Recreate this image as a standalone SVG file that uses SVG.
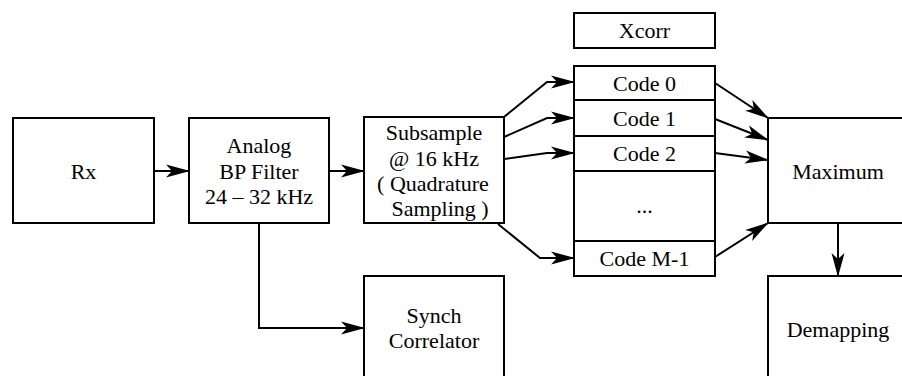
<svg xmlns="http://www.w3.org/2000/svg" width="902" height="376" viewBox="0 0 902 376">
<style>
.box{fill:#fff;stroke:#000;stroke-width:2}
.t{font-family:"Liberation Serif","Times New Roman",Times,serif;font-size:22px;fill:#000;text-anchor:middle}
.c{fill:none;stroke:#000;stroke-width:2;marker-end:url(#ah)}
</style>
<defs>
<marker id="ah" markerUnits="userSpaceOnUse" markerWidth="26" markerHeight="16" refX="23" refY="8" orient="auto">
<path d="M0,1.5 L24,8 L0,14.5 L6,8 z" fill="#000"/>
</marker>
</defs>
<rect width="902" height="376" fill="#fff"/>
<g id="rx"><rect class="box" x="13" y="118" width="141" height="105"/><text class="t" x="83.5" y="179">Rx</text></g>
<g id="filter"><rect class="box" x="189" y="118" width="140" height="105"/>
<text class="t" x="259" y="153">Analog</text><text class="t" x="259" y="179">BP Filter</text><text class="t" x="259" y="204">24 – 32 kHz</text></g>
<g id="subsample"><rect class="box" x="364" y="117" width="140" height="106"/>
<text class="t" x="434" y="140">Subsample</text><text class="t" x="434" y="166">@ 16 kHz</text><text class="t" x="433" y="191">( Quadrature</text><text class="t" x="440" y="216">Sampling )</text></g>
<g id="synch"><rect class="box" x="364" y="276" width="140" height="110"/>
<text class="t" x="434" y="323">Synch</text><text class="t" x="434" y="348">Correlator</text></g>
<g id="xcorr"><rect class="box" x="574" y="13" width="141" height="35"/><text class="t" x="644.5" y="38">Xcorr</text></g>
<g id="code0"><rect class="box" x="574" y="66" width="141" height="34"/><text class="t" x="644.5" y="91">Code 0</text></g>
<g id="code1"><rect class="box" x="574" y="100" width="141" height="36"/><text class="t" x="644.5" y="126">Code 1</text></g>
<g id="code2"><rect class="box" x="574" y="136" width="141" height="35"/><text class="t" x="644.5" y="161">Code 2</text></g>
<g id="dots"><rect class="box" x="574" y="171" width="141" height="70"/><text class="t" x="644.5" y="213">...</text></g>
<g id="codeM"><rect class="box" x="574" y="241" width="141" height="35"/><text class="t" x="644.5" y="266">Code M-1</text></g>
<g id="maximum"><rect class="box" x="768" y="118" width="140" height="105"/><text class="t" x="838" y="179">Maximum</text></g>
<g id="demapping"><rect class="box" x="768" y="276" width="140" height="110"/><text class="t" x="838" y="337">Demapping</text></g>
<g id="connectors">
<path class="c" d="M154,171 H189"/>
<path class="c" d="M329,171 H364"/>
<path class="c" d="M259,223 V328 H364"/>
<path class="c" d="M504,117 L547,82 H574"/>
<path class="c" d="M504,137 L547,118 H574"/>
<path class="c" d="M504,159 L547,153 H574"/>
<path class="c" d="M498,224 L540,258 H574"/>
<path class="c" d="M715,83 L768,118"/>
<path class="c" d="M715,119 L768,140"/>
<path class="c" d="M715,153 L768,160"/>
<path class="c" d="M715,257 L768,223"/>
<path class="c" d="M838,223 V276"/>
</g>
</svg>
